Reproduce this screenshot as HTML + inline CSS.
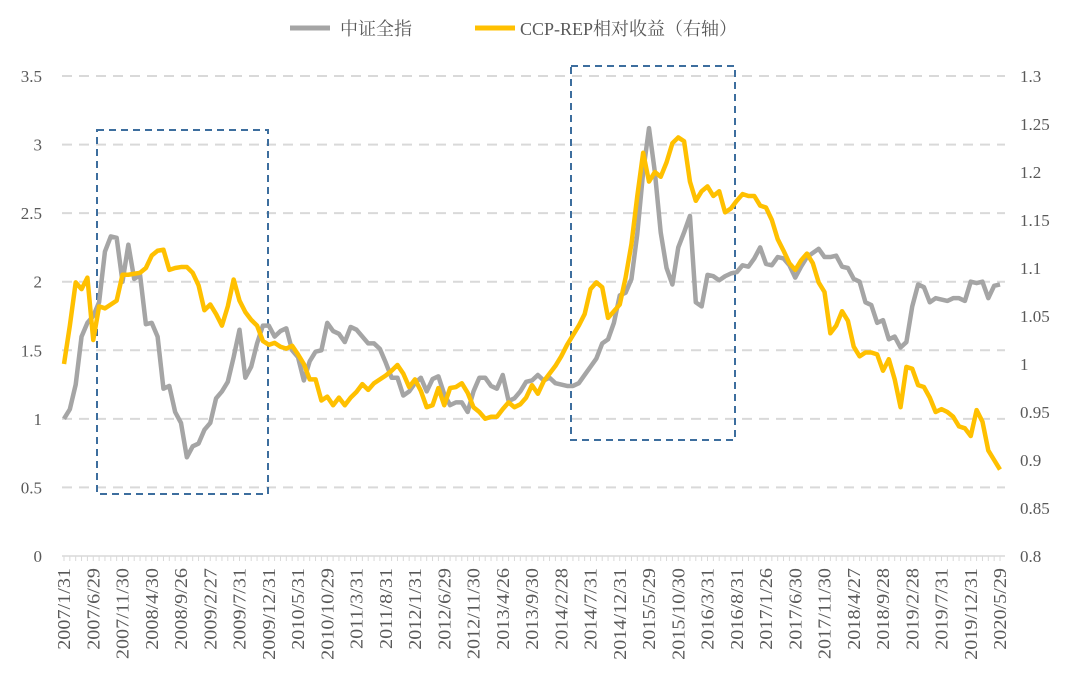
<!DOCTYPE html>
<html><head><meta charset="utf-8"><style>
body{margin:0;background:#fff;font-family:"Liberation Serif","Noto Serif CJK SC",serif;}
svg text{font-family:"Liberation Serif","Noto Serif CJK SC",serif;}
</style></head><body>
<svg id="chart" width="1074" height="681" viewBox="0 0 1074 681" xmlns="http://www.w3.org/2000/svg">
<g>
 <line x1="290" y1="28" x2="330" y2="28" stroke="#a5a5a5" stroke-width="5"/>
 <text x="340" y="35" font-size="18" fill="#595959">中证全指</text>
 <line x1="475" y1="28" x2="515" y2="28" stroke="#ffc000" stroke-width="5"/>
 <text x="520" y="35" font-size="18" fill="#595959">CCP-REP相对收益（右轴）</text>
</g>
<g id="grid"></g><g id="axes"></g><g id="boxes"></g><g id="series"></g>
</svg>
<script>
const leftTicks=[0,0.5,1,1.5,2,2.5,3,3.5];
const rightTicks=[0.8,0.85,0.9,0.95,1,1.05,1.1,1.15,1.2,1.25,1.3];
const dateLabels=["2007/1/31","2007/6/29","2007/11/30","2008/4/30","2008/9/26","2009/2/27","2009/7/31","2009/12/31","2010/5/31","2010/10/29","2011/3/31","2011/8/31","2012/1/31","2012/6/29","2012/11/30","2013/4/26","2013/9/30","2014/2/28","2014/7/31","2014/12/31","2015/5/29","2015/10/30","2016/3/31","2016/8/31","2017/1/26","2017/6/30","2017/11/30","2018/4/27","2018/9/28","2019/2/28","2019/7/31","2019/12/31","2020/5/29"];
const csiAll=[1.0,1.07,1.25,1.6,1.7,1.75,1.85,2.22,2.33,2.32,2.0,2.27,
2.02,2.05,1.69,1.70,1.6,1.22,1.24,1.05,0.97,0.72,0.8,0.82,
0.92,0.97,1.15,1.2,1.27,1.45,1.65,1.3,1.38,1.55,1.68,1.68,
1.6,1.64,1.66,1.5,1.45,1.28,1.42,1.49,1.5,1.7,1.64,1.62,
1.56,1.67,1.65,1.6,1.55,1.55,1.51,1.41,1.3,1.3,1.17,1.2,
1.26,1.3,1.2,1.29,1.31,1.18,1.1,1.12,1.12,1.05,1.2,1.3,
1.3,1.24,1.22,1.32,1.13,1.15,1.2,1.27,1.28,1.32,1.28,1.3,
1.26,1.25,1.24,1.24,1.26,1.32,1.38,1.44,1.55,1.58,1.7,1.9,
1.92,2.02,2.35,2.8,3.12,2.8,2.36,2.1,1.98,2.25,2.36,2.48,
1.85,1.82,2.05,2.04,2.01,2.04,2.06,2.07,2.12,2.11,2.17,2.25,
2.13,2.12,2.18,2.17,2.12,2.03,2.11,2.18,2.21,2.24,2.18,2.18,
2.19,2.11,2.1,2.02,2.0,1.85,1.83,1.7,1.72,1.58,1.6,1.52,
1.56,1.82,1.98,1.96,1.85,1.88,1.87,1.86,1.88,1.88,1.86,2.0,
1.99,2.0,1.88,1.97,1.98];
const ccpRep=[1.0,1.04,1.085,1.078,1.09,1.025,1.06,1.058,1.062,1.066,1.093,1.093,
1.094,1.095,1.1,1.113,1.118,1.119,1.098,1.1,1.101,1.101,1.095,1.082,
1.056,1.062,1.052,1.04,1.06,1.088,1.066,1.054,1.046,1.04,1.024,1.02,
1.022,1.018,1.016,1.019,1.01,1.0,0.984,0.984,0.962,0.966,0.957,0.965,
0.957,0.965,0.971,0.979,0.973,0.98,0.984,0.988,0.993,0.999,0.99,0.976,
0.984,0.972,0.955,0.957,0.975,0.957,0.975,0.976,0.98,0.97,0.955,0.95,
0.943,0.945,0.945,0.953,0.96,0.955,0.958,0.965,0.978,0.969,0.982,0.99,
0.998,1.008,1.02,1.03,1.04,1.052,1.078,1.085,1.08,1.048,1.055,1.062,
1.09,1.125,1.175,1.22,1.19,1.2,1.195,1.21,1.23,1.236,1.232,1.19,
1.17,1.18,1.185,1.175,1.18,1.158,1.162,1.17,1.177,1.175,1.175,1.165,
1.163,1.15,1.13,1.118,1.105,1.098,1.108,1.115,1.105,1.085,1.075,1.032,
1.04,1.055,1.045,1.018,1.008,1.012,1.012,1.01,0.993,1.005,0.984,0.955,
0.997,0.995,0.978,0.976,0.965,0.95,0.953,0.95,0.945,0.935,0.933,0.925,
0.952,0.94,0.91,0.9,0.89];
const NS="http://www.w3.org/2000/svg";
const X0=64,X1=1000,YB=556,YT=76;
const n=csiAll.length;
const xs=i=>X0+(X1-X0)*i/(n-1);
const yL=v=>YB-(YB-YT)*v/3.5;
const yR=v=>YB-(YB-YT)*(v-0.8)/0.5;
function mk(tag,parent,attrs){const e=document.createElementNS(NS,tag);for(const k in attrs)e.setAttribute(k,attrs[k]);document.getElementById(parent).appendChild(e);return e;}
leftTicks.forEach(t=>{
 if(t>0){const g=mk('line','grid',{x1:62,x2:1005,y1:yL(t),y2:yL(t),stroke:'#d9d9d9','stroke-width':2,'stroke-dasharray':'10,7'});
 
 }
 const l=mk('text','axes',{x:42,y:yL(t)+6,'text-anchor':'end','font-size':17,fill:'#595959'});l.textContent=String(t);
 
 
});
rightTicks.forEach(t=>{
 const l=mk('text','axes',{x:1020,y:yR(t)+6,'font-size':17,fill:'#595959'});l.textContent=String(t);
 
 
});
const ax=mk('line','axes',{x1:62,x2:1005,y1:YB,y2:YB,stroke:'#d9d9d9','stroke-width':1.5});


for(let i=0;i<n;i++){
 const tk=mk('line','axes',{x1:xs(i),x2:xs(i),y1:YB,y2:YB+5,stroke:'#d9d9d9','stroke-width':1});
 
 
}
dateLabels.forEach((lab,k)=>{
 const i=k*5;
 const t=mk('text','axes',{x:0,y:0,'text-anchor':'end','font-size':18,fill:'#595959',transform:`translate(${xs(i)+6},${YB+12}) rotate(-90) scale(1.12,1)`});
 t.textContent=lab;
 
 
});
const b1=mk('rect','boxes',{x:97,y:130,width:171,height:364,fill:'none',stroke:'#3d6e9e','stroke-width':2,'stroke-dasharray':'7,5'});


const b2=mk('rect','boxes',{x:571,y:66,width:164,height:374,fill:'none',stroke:'#3d6e9e','stroke-width':2,'stroke-dasharray':'7,5'});


const p1=mk('polyline','series',{points:csiAll.map((v,i)=>xs(i)+','+yL(v)).join(' '),fill:'none',stroke:'#a5a5a5','stroke-width':4.5,'stroke-linejoin':'round'});


const p2=mk('polyline','series',{points:ccpRep.map((v,i)=>xs(i)+','+yR(v)).join(' '),fill:'none',stroke:'#ffc000','stroke-width':4.5,'stroke-linejoin':'round'});


</script>
</body></html>
